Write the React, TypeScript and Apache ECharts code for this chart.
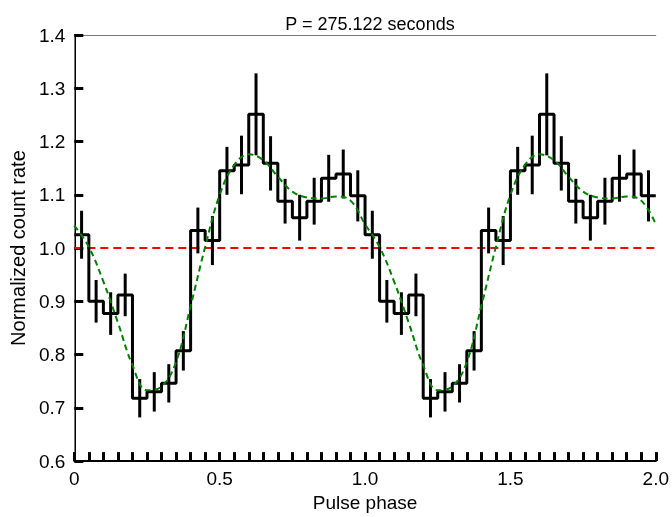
import React, { useEffect, useRef } from "react";
import * as echarts from "echarts";

// One pulse cycle, 20 phase bins of width 0.05 (folded data shown twice)
const binWidth = 0.05;
const binValues = [
  1.025, 0.9, 0.877, 0.912, 0.718, 0.73, 0.746, 0.807, 1.033, 1.014,
  1.145, 1.156, 1.251, 1.159, 1.088, 1.057, 1.088, 1.131, 1.139, 1.098,
];
const binErrors = [
  0.045, 0.04, 0.04, 0.04, 0.036, 0.037, 0.036, 0.037, 0.043, 0.046,
  0.045, 0.055, 0.077, 0.051, 0.042, 0.043, 0.044, 0.044, 0.046, 0.048,
];
// Fitted model sampled at phases 0, 0.05, ..., 1.0
const fitValues = [
  1.042, 1.002, 0.937, 0.86, 0.78, 0.733, 0.74, 0.786, 0.891, 1.002,
  1.1, 1.156, 1.176, 1.165, 1.134, 1.106, 1.095, 1.093, 1.097, 1.089, 1.045,
];
const cycles = 2;
const referenceLevel = 1.0;
const xTickLabels = ["0", "0.5", "1.0", "1.5", "2.0"];
const titleText = "P = 275.122 seconds";

const FONT = "'Liberation Sans', Arial, Helvetica, sans-serif";

export default function App() {
  const ref = useRef<HTMLDivElement>(null);
  useEffect(() => {
    if (!ref.current) return;
    const chart = echarts.init(ref.current, null, { renderer: "svg" });

    const n = binValues.length;
    const stepData: number[][] = [];
    const errData: number[][] = [];
    for (let c = 0; c < cycles; c++) {
      for (let i = 0; i < n; i++) {
        const x0 = c + i * binWidth;
        stepData.push([x0, binValues[i]]);
        errData.push([x0 + binWidth / 2, binValues[i] - binErrors[i], binValues[i] + binErrors[i]]);
      }
    }
    stepData.push([cycles, binValues[n - 1]]);

    const fitData: number[][] = [];
    for (let c = 0; c < cycles; c++) {
      for (let i = 0; i < fitValues.length; i++) {
        if (c > 0 && i === 0) continue;
        fitData.push([c + i * binWidth, fitValues[i]]);
      }
    }

    chart.setOption({
      animation: false,
      textStyle: { fontFamily: FONT },
      title: {
        text: titleText,
        left: 365,
        textAlign: "center",
        top: 10,
        textStyle: { fontSize: 18, fontWeight: "normal", color: "#000", fontFamily: FONT },
      },
      grid: { left: 74, right: 16, top: 35, bottom: 50 },
      xAxis: [
        {
          type: "value",
          min: 0,
          max: 2,
          interval: 0.5,
          name: "Pulse phase",
          nameLocation: "middle",
          nameGap: 31,
          nameTextStyle: { fontSize: 19, color: "#000", fontFamily: FONT },
          axisLine: { show: true, onZero: false, lineStyle: { color: "#000", width: 2 } },
          axisTick: { show: true, inside: true, length: 9, lineStyle: { color: "#000", width: 3 } },
          minorTick: { show: true, splitNumber: 10, length: 9, lineStyle: { color: "#000", width: 3 } },
          splitLine: { show: false },
          axisLabel: {
            fontSize: 19,
            color: "#000",
            margin: 8,
            fontFamily: FONT,
            formatter: (v: number) => xTickLabels[Math.round(v / 0.5)] ?? "",
          },
        },
        {
          type: "value",
          position: "top",
          min: 0,
          max: 2,
          axisLine: { show: true, lineStyle: { color: "#777", width: 1 } },
          axisTick: { show: false },
          axisLabel: { show: false },
          splitLine: { show: false },
        },
      ],
      yAxis: [
        {
          type: "value",
          min: 0.6,
          max: 1.4,
          interval: 0.1,
          name: "Normalized count rate",
          nameLocation: "middle",
          nameGap: 41,
          nameTextStyle: { fontSize: 20, color: "#000", fontFamily: FONT },
          axisLine: { show: true, onZero: false, lineStyle: { color: "#000", width: 2 } },
          axisTick: { show: true, inside: true, length: 9, lineStyle: { color: "#000", width: 3 } },
          splitLine: { show: false },
          axisLabel: {
            fontSize: 19,
            color: "#000",
            margin: 9,
            fontFamily: FONT,
            formatter: (v: number) => v.toFixed(1),
          },
        },
        {
          type: "value",
          position: "right",
          min: 0.6,
          max: 1.4,
          axisLine: { show: true, lineStyle: { color: "#777", width: 1 } },
          axisTick: { show: false },
          axisLabel: { show: false },
          splitLine: { show: false },
        },
      ],
      series: [
        {
          type: "line",
          data: [
            [0, referenceLevel],
            [cycles, referenceLevel],
          ],
          symbol: "none",
          lineStyle: { color: "#ff0000", width: 2, type: [8, 5] },
          z: 1,
        },
        {
          type: "line",
          data: stepData,
          step: "end",
          symbol: "none",
          lineStyle: { color: "#000", width: 3 },
          z: 2,
        },
        {
          type: "custom",
          data: errData,
          renderItem: (params: any, api: any) => {
            const x = api.value(0);
            const p1 = api.coord([x, api.value(1)]);
            const p2 = api.coord([x, api.value(2)]);
            return {
              type: "line",
              shape: { x1: p1[0], y1: p1[1], x2: p2[0], y2: p2[1] },
              style: { stroke: "#000", lineWidth: 3 },
            };
          },
          z: 3,
        },
        {
          type: "line",
          data: fitData,
          smooth: 0.4,
          symbol: "none",
          lineStyle: { color: "#008000", width: 2, type: [6, 4] },
          z: 4,
        },
      ],
    });
    return () => chart.dispose();
  }, []);
  return (
    <div
      ref={ref}
      style={{ position: "fixed", left: 0, top: 0, width: 672, height: 517 }}
    />
  );
}
